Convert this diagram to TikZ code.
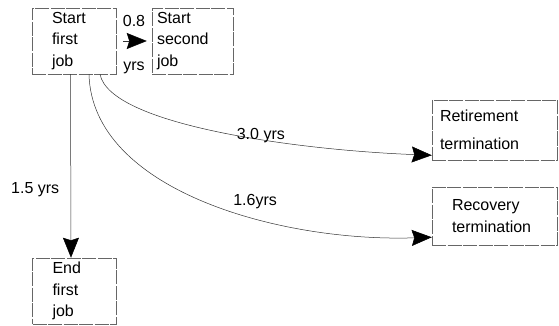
\documentclass[tikz,border=0pt]{standalone}
\usepackage{fontspec}
\setmainfont{Liberation Sans}
\usepackage{tikz}
\usetikzlibrary{arrows.meta}

\begin{document}
\begin{tikzpicture}[
    x=1pt, y=-1pt,
    ->,
    >={Stealth[length=20pt, width=16pt, inset=2.5pt, color=black]},
    line width=0.5pt,
    every node/.style={font=\fontsize{16pt}{19pt}\selectfont},
    jobbox/.style={rectangle, draw=black!60, dash pattern=on 14pt off 1.5pt, align=left, inner ysep=0pt, minimum height=66pt},
    link/.style={draw=black!80},
]
    \useasboundingbox (0,0) rectangle (559,326);

    \node[jobbox, text width=44pt, inner xsep=20pt, font=\fontsize{16pt}{21.5pt}\selectfont] (start1) at (74,41) {Start\\first\\job};
    \node[jobbox, text width=71pt, inner xsep=5pt, font=\fontsize{16pt}{21.5pt}\selectfont] (start2) at (192.5,41) {Start\\second\\job};
    \node[jobbox, text width=44pt, inner xsep=20pt, font=\fontsize{16pt}{21.5pt}\selectfont] (end1) at (74.5,291) {End\\first\\job};
    \node[jobbox, text width=109pt, inner xsep=8pt, minimum height=60pt, font=\fontsize{16pt}{28pt}\selectfont] (retire) at (494.5,130) {Retirement\\termination};
    \node[jobbox, text width=85pt, inner xsep=20pt, minimum height=58pt, font=\fontsize{16pt}{22pt}\selectfont] (recover) at (494.5,216) {Recovery\\termination};

    \draw[link, shorten <=7pt, shorten >=5pt] (start1.east) -- (start2.west)
        node[midway, above=14pt, inner sep=0pt] {0.8}
        node[midway, below=20.7pt, inner sep=0pt] {yrs};
    \draw[link] ([xshift=-3.5pt]start1.south) -- ([xshift=-3.5pt]end1.north)
        node[pos=0.63, left=8pt] {1.5 yrs};
    \draw[link] ([xshift=26pt]start1.south) .. controls +(10,51) and +(-132,-5) .. ([yshift=5pt]retire.south west)
        node[pos=0.6, anchor=base] {3.0 yrs};
    \draw[link] ([xshift=15pt]start1.south) .. controls +(3,116) and +(-152,5) .. ([yshift=8pt]recover.south west)
        node[pos=0.62, anchor=base, yshift=12pt] {1.6yrs};
\end{tikzpicture}
\end{document}
